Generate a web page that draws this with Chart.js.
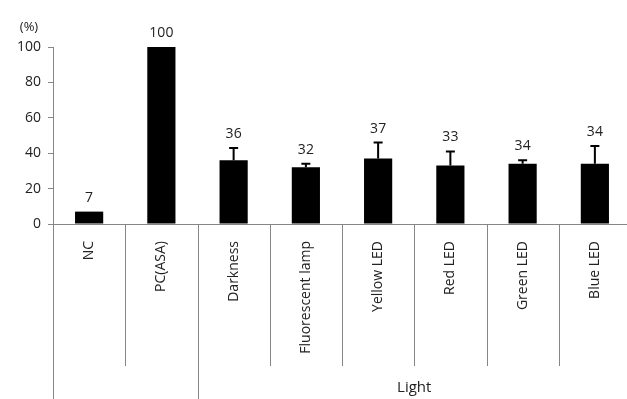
<!DOCTYPE html>
<html>
<head>
<meta charset="utf-8">
<script src="https://cdn.jsdelivr.net/npm/chart.js@4"></script>
<style>
  body { margin: 0; overflow: hidden; background: #fff; }
</style>
</head>
<body>
<canvas id="barChart" width="631" height="399"></canvas>
<script>
var categories = ['NC', 'PC(ASA)', 'Darkness', 'Fluorescent lamp', 'Yellow LED', 'Red LED', 'Green LED', 'Blue LED'];
var percentValues = [7, 100, 36, 32, 37, 33, 34, 34];
var errorValues = [0, 0, 7, 2, 9, 8, 2, 10];
var yTicks = [0, 20, 40, 60, 80, 100];
var groupName = 'Light';
var groupStart = 2; // Darkness .. Blue LED

var axisColor = '#868686';
var textColor = '#222';
var fontFamily = '"Open Sans", "DejaVu Sans", sans-serif';

// error bars (upper half only) and value labels
var barExtras = {
    id: 'barExtras',
    afterDatasetsDraw: function (chart) {
        var ctx = chart.ctx;
        var y = chart.scales.y;
        var meta = chart.getDatasetMeta(0);
        ctx.save();
        meta.data.forEach(function (bar, i) {
            var top = y.getPixelForValue(percentValues[i]);
            if (errorValues[i] > 0) {
                var errTop = y.getPixelForValue(percentValues[i] + errorValues[i]);
                ctx.strokeStyle = '#000';
                ctx.lineWidth = 2;
                ctx.beginPath();
                ctx.moveTo(bar.x, top);
                ctx.lineTo(bar.x, errTop);
                ctx.moveTo(bar.x - 4.5, errTop);
                ctx.lineTo(bar.x + 4.5, errTop);
                ctx.stroke();
                top = errTop;
            }
            ctx.fillStyle = textColor;
            ctx.font = '14px ' + fontFamily;
            ctx.textAlign = 'center';
            ctx.textBaseline = 'middle';
            ctx.fillText(String(percentValues[i]), bar.x, top - 14);
        });
        ctx.restore();
    }
};

// category divider lines under the axis, group label, unit label
var categoryFrame = {
    id: 'categoryFrame',
    afterDraw: function (chart) {
        var ctx = chart.ctx;
        var area = chart.chartArea;
        var w = (area.right - area.left) / categories.length;
        ctx.save();
        ctx.strokeStyle = axisColor;
        ctx.lineWidth = 1;
        for (var k = 0; k < categories.length; k++) {
            var px = Math.round(area.left + k * w) + 0.5;
            var bottom = (k === 0 || k === groupStart) ? chart.height : 366;
            ctx.beginPath();
            ctx.moveTo(px, area.bottom);
            ctx.lineTo(px, bottom);
            ctx.stroke();
        }
        ctx.fillStyle = textColor;
        ctx.font = '15px ' + fontFamily;
        ctx.textAlign = 'center';
        ctx.textBaseline = 'middle';
        var gx = (area.left + groupStart * w + area.right) / 2;
        ctx.fillText(groupName, gx, 388);
        ctx.font = '13px ' + fontFamily;
        ctx.fillText('(%)', 29, 27);
        ctx.restore();
    }
};

var ctx = document.getElementById('barChart').getContext('2d');

var myChart = new Chart(ctx, {
    type: 'bar',
    data: {
        labels: categories,
        datasets: [{
            data: percentValues,
            backgroundColor: '#000',
            borderWidth: 0,
            categoryPercentage: 1,
            barPercentage: 0.39
        }]
    },
    options: {
        responsive: false,
        animation: false,
        layout: { padding: { top: 47, right: 0, left: 0, bottom: 0 } },
        plugins: {
            legend: { display: false },
            tooltip: { enabled: false }
        },
        scales: {
            y: {
                min: 0,
                max: 100,
                afterBuildTicks: function (scale) {
                    scale.ticks = yTicks.map(function (v) { return { value: v }; });
                },
                afterFit: function (scale) { scale.width = 53; },
                grid: {
                    drawOnChartArea: false,
                    drawTicks: true,
                    tickLength: 5,
                    color: axisColor
                },
                border: { display: true, color: axisColor },
                ticks: {
                    color: textColor,
                    padding: 7,
                    font: { size: 14, family: fontFamily }
                }
            },
            x: {
                afterFit: function (scale) { scale.height = 175; },
                grid: { display: false },
                border: { display: true, color: axisColor },
                ticks: {
                    autoSkip: false,
                    minRotation: 90,
                    maxRotation: 90,
                    padding: 9,
                    color: textColor,
                    font: { size: 14, family: fontFamily }
                }
            }
        }
    },
    plugins: [barExtras, categoryFrame]
});
</script>
</body>
</html>
